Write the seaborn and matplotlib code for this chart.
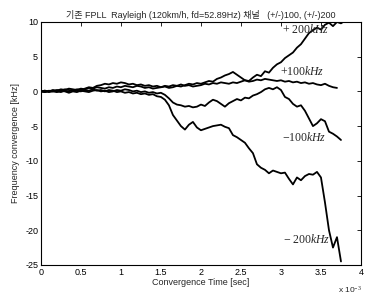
import numpy as np
import pandas as pd
import matplotlib
matplotlib.use("Agg")
import matplotlib.pyplot as plt
from matplotlib.ticker import FuncFormatter
import seaborn as sns

# convergence time in ms (plotted in seconds)
time_ms = [0.00, 0.05, 0.10, 0.15, 0.20, 0.25, 0.30, 0.35, 0.40, 0.45,
           0.50, 0.55, 0.60, 0.65, 0.70, 0.75, 0.80, 0.85, 0.90, 0.95,
           1.00, 1.05, 1.10, 1.15, 1.20, 1.25, 1.30, 1.35, 1.40, 1.45,
           1.50, 1.55, 1.60, 1.65, 1.70, 1.75, 1.80, 1.85, 1.90, 1.95,
           2.00, 2.05, 2.10, 2.15, 2.20, 2.25, 2.30, 2.35, 2.40, 2.45,
           2.50, 2.55, 2.60, 2.65, 2.70, 2.75, 2.80, 2.85, 2.90, 2.95,
           3.00, 3.05, 3.10, 3.15, 3.20, 3.25, 3.30, 3.35, 3.40, 3.45,
           3.50, 3.55, 3.60, 3.65, 3.70, 3.75, 3.80, 3.85]

nan = np.nan

plus_200 = [0.0, 0.1, 0.0, 0.2, 0.1, 0.3, 0.2, 0.4, 0.3, 0.2,
            0.4, 0.3, 0.5, 0.4, 0.6, 0.5, 0.4, 0.6, 0.5, 0.7,
            0.6, 0.8, 0.7, 0.6, 0.8, 0.7, 0.5, 0.6, 0.4, 0.5,
            0.6, 0.8, 0.7, 0.9, 0.8, 1.0, 0.8, 0.9, 0.7, 0.8,
            0.9, 1.1, 1.0, 1.2, 1.1, 1.3, 1.2, 1.1, 1.3, 1.2,
            1.4, 1.6, 1.5, 2.0, 2.4, 2.2, 2.9, 2.7, 3.4, 3.9,
            4.2, 4.8, 5.2, 5.6, 6.3, 6.8, 7.6, 8.4, 8.8, 9.2,
            8.9, 9.6, 9.9, 9.4, 10.0, 9.8, 10.2, 10.0]

plus_100 = [0.0, -0.1, 0.1, 0.0, 0.2, 0.1, 0.3, 0.2, 0.1, 0.3,
            0.2, 0.4, 0.6, 0.5, 0.8, 0.9, 1.1, 1.0, 1.2, 1.1,
            1.3, 1.2, 1.0, 1.1, 0.9, 1.0, 0.8, 0.9, 0.7, 0.8,
            0.6, 0.7, 0.5, 0.6, 0.8, 0.7, 0.9, 1.1, 1.0, 1.2,
            1.1, 1.3, 1.5, 1.4, 1.8, 2.0, 2.3, 2.5, 2.8, 2.4,
            2.0, 1.6, 1.4, 1.5, 1.7, 1.6, 1.8, 1.7, 1.6, 1.5,
            1.6, 1.4, 1.5, 1.3, 1.4, 1.2, 1.3, 1.1, 1.2, 1.0,
            0.9, 1.1, 0.8, 0.6, 0.5, nan, nan, nan]

minus_100 = [0.0, 0.1, -0.1, 0.0, -0.1, 0.1, 0.0, -0.2, 0.0, -0.1,
             0.1, 0.0, -0.1, 0.1, 0.2, 0.0, 0.1, -0.1, 0.0, 0.2,
             0.1, 0.3, 0.2, 0.0, 0.1, -0.1, 0.0, -0.2, -0.1, -0.3,
             -0.2, -0.5, -1.0, -1.6, -1.9, -2.0, -2.2, -2.1, -2.3, -2.2,
             -1.9, -2.1, -1.6, -1.2, -1.4, -1.8, -2.2, -1.7, -1.4, -1.1,
             -1.3, -0.9, -1.0, -0.6, -0.4, -0.1, 0.3, 0.5, 0.3, 0.6,
             0.2, -0.8, -1.1, -1.8, -2.2, -2.0, -2.8, -3.9, -5.0, -4.6,
             -4.0, -4.3, -5.8, -6.1, -6.5, -7.0, nan, nan]

minus_200 = [0.0, -0.1, 0.0, 0.1, 0.0, -0.1, 0.1, 0.0, 0.2, 0.1,
             0.0, 0.2, 0.1, 0.3, 0.1, 0.2, 0.0, 0.2, 0.1, -0.1,
             0.0, -0.2, -0.1, -0.3, -0.2, -0.4, -0.3, -0.5, -0.4, -0.7,
             -0.8, -1.2, -2.0, -3.4, -4.2, -5.0, -5.5, -4.8, -4.4, -5.2,
             -5.6, -5.4, -5.2, -5.0, -4.9, -4.8, -5.1, -5.3, -6.3, -6.6,
             -7.0, -7.4, -8.2, -8.9, -10.5, -11.0, -11.3, -11.8, -11.4, -11.6,
             -11.8, -11.7, -12.6, -13.4, -12.4, -12.8, -12.2, -11.9, -12.0, -11.6,
             -12.4, -16.0, -20.0, -22.5, -21.0, -24.5, nan, nan]

series_names = ["+200", "+100", "-100", "-200"]
label_texts = [r"+ 200$kHz$", r"+100$kHz$", r"$-$100$kHz$", r"$-$ 200$kHz$"]
label_x_ms = [3.01, 2.99, 3.01, 3.02]
label_y = [8.85, 2.8, -6.6, -21.4]

frames = []
for name, vals in zip(series_names, [plus_200, plus_100, minus_100, minus_200]):
    frames.append(pd.DataFrame({"t": np.array(time_ms) * 1e-3, "f": vals, "series": name}))
data = pd.concat(frames).dropna()

sns.set_style("white")
plt.rcParams["font.family"] = ["Liberation Sans", "Noto Sans CJK KR"]
plt.rcParams["axes.unicode_minus"] = False
plt.rcParams["mathtext.fontset"] = "custom"
plt.rcParams["mathtext.it"] = "Liberation Serif:italic"
plt.rcParams["mathtext.rm"] = "Liberation Serif"

fig = plt.figure(figsize=(3.65, 2.97), dpi=100)
ax = fig.add_axes([0.112, 0.108, 0.877, 0.818])

sns.lineplot(data=data, x="t", y="f", hue="series", units="series", estimator=None,
             palette=["black"] * 4, linewidth=1.3, legend=False, ax=ax)

for txt, lx, ly in zip(label_texts, label_x_ms, label_y):
    ax.text(lx * 1e-3, ly, txt, fontsize=8.5, family="Liberation Serif", va="center", ha="left")

ax.set_xlim(0, 4e-3)
ax.set_ylim(-25, 10)
ax.set_xticks([0, 0.5e-3, 1e-3, 1.5e-3, 2e-3, 2.5e-3, 3e-3, 3.5e-3, 4e-3])
ax.set_yticks([10, 5, 0, -5, -10, -15, -20, -25])
ax.xaxis.set_major_formatter(FuncFormatter(lambda v, p: "%g" % round(v * 1e3, 3)))
ax.tick_params(direction="in", top=True, right=True, length=3, width=0.6,
               labelsize=6.5, pad=2, colors="black")
for sp in ax.spines.values():
    sp.set_color("black")
    sp.set_linewidth(0.8)

ax.set_xlabel("Convergence Time [sec]", fontsize=6.5, labelpad=1)
ax.set_ylabel("Frequency convergence [kHz]", fontsize=6.5, labelpad=4)
ax.set_title("기존 FPLL  Rayleigh (120km/h, fd=52.89Hz) 채널   (+/-)100, (+/-)200",
             fontsize=6.5, pad=3)
fig.text(0.993, 0.025, r"x 10$^{-3}$", fontsize=6, ha="right", va="center")

fig.savefig("out.png", dpi=100)
